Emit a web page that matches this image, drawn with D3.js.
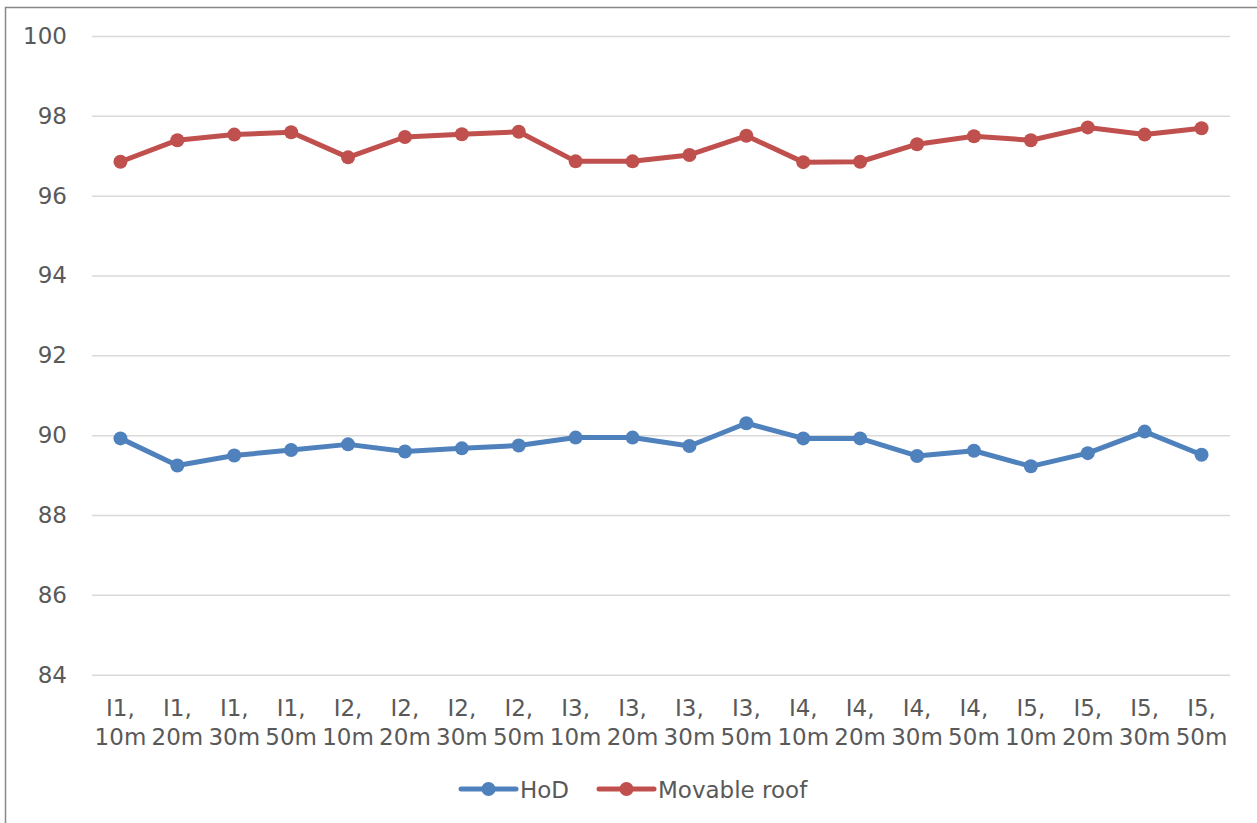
<!DOCTYPE html>
<html>
<head>
<meta charset="utf-8">
<script src="https://cdn.jsdelivr.net/npm/d3@7"></script>
<style>
  body { margin: 0; background: #fff; }
  svg { display: block; font-family: "DejaVu Sans", Verdana, sans-serif; }
</style>
</head>
<body>
<div id="chart"></div>
<script>
// chart data
const categories = [
  ['I1,', '10m'], ['I1,', '20m'], ['I1,', '30m'], ['I1,', '50m'],
  ['I2,', '10m'], ['I2,', '20m'], ['I2,', '30m'], ['I2,', '50m'],
  ['I3,', '10m'], ['I3,', '20m'], ['I3,', '30m'], ['I3,', '50m'],
  ['I4,', '10m'], ['I4,', '20m'], ['I4,', '30m'], ['I4,', '50m'],
  ['I5,', '10m'], ['I5,', '20m'], ['I5,', '30m'], ['I5,', '50m']
];
const hod = [89.92, 89.24, 89.49, 89.63, 89.77, 89.59, 89.67, 89.74, 89.94, 89.94,
             89.73, 90.30, 89.92, 89.92, 89.48, 89.61, 89.22, 89.55, 90.09, 89.51];
const movableRoof = [96.85, 97.39, 97.53, 97.59, 96.96, 97.47, 97.54, 97.60, 96.86, 96.86,
                     97.02, 97.50, 96.84, 96.85, 97.29, 97.49, 97.39, 97.71, 97.53, 97.69];
const yTicks = [84, 86, 88, 90, 92, 94, 96, 98, 100];
const seriesNames = ['HoD', 'Movable roof'];
const seriesColors = ['#4F81BD', '#C0504D'];

(function() {
  'use strict';

  const width = 1257, height = 823,
        margin = { left: 92, right: 27, top: 36, bottom: 148 },
        textColor = '#595959',
        fontSize = '23px',
        series = [hod, movableRoof];

  const svg = d3.select('#chart').append('svg')
    .attr('width', width)
    .attr('height', height);

  // outer frame of the chart area
  svg.append('rect')
    .attr('x', 5.5).attr('y', 7.5)
    .attr('width', width + 10).attr('height', height + 10)
    .attr('fill', 'none')
    .attr('stroke', '#888')
    .attr('stroke-width', 1.5);

  const x = d3.scaleBand()
    .domain(d3.range(categories.length))
    .range([margin.left, width - margin.right]);

  const y = d3.scaleLinear()
    .domain([84, 100])
    .range([height - margin.bottom - 0.3, margin.top]);

  // gridlines + y labels
  const yAxis = d3.axisLeft(y)
    .tickValues(yTicks)
    .tickSize(-(width - margin.left - margin.right))
    .tickPadding(25);

  const gy = svg.append('g')
    .attr('transform', `translate(${margin.left},0)`)
    .call(yAxis);
  gy.select('.domain').remove();
  gy.selectAll('.tick line').attr('stroke', '#d9d9d9').attr('stroke-width', 1.5);
  gy.selectAll('.tick text')
    .attr('fill', textColor)
    .style('font-size', fontSize)
    .style('font-family', '"DejaVu Sans", Verdana, sans-serif');

  // x labels (two lines each)
  const xl = svg.append('g').selectAll('text')
    .data(categories)
    .join('text')
    .attr('x', (d, i) => x(i) + x.bandwidth() / 2)
    .attr('y', 716)
    .attr('text-anchor', 'middle')
    .attr('fill', textColor)
    .style('font-size', fontSize);
  xl.append('tspan').text(d => d[0]);
  xl.append('tspan')
    .attr('x', (d, i) => x(i) + x.bandwidth() / 2)
    .attr('dy', 29)
    .text(d => d[1]);

  const line = d3.line()
    .x((d, i) => x(i) + x.bandwidth() / 2)
    .y(d => y(d));

  // series lines + markers
  series.forEach((values, s) => {
    svg.append('path')
      .datum(values)
      .attr('d', line)
      .attr('fill', 'none')
      .attr('stroke', seriesColors[s])
      .attr('stroke-width', 5)
      .attr('stroke-linejoin', 'round')
      .attr('stroke-linecap', 'round');

    svg.append('g').selectAll('circle')
      .data(values)
      .join('circle')
      .attr('cx', (d, i) => x(i) + x.bandwidth() / 2)
      .attr('cy', d => y(d))
      .attr('r', 7)
      .attr('fill', seriesColors[s]);
  });

  // legend
  const legendX = [461, 599];
  const lg = svg.append('g').selectAll('g')
    .data(seriesNames)
    .join('g')
    .attr('transform', (d, i) => `translate(${legendX[i]},789)`);
  lg.append('line')
    .attr('x1', 0).attr('x2', 55)
    .attr('stroke', (d, i) => seriesColors[i])
    .attr('stroke-width', 5)
    .attr('stroke-linecap', 'round');
  lg.append('circle')
    .attr('cx', 27.5).attr('r', 7)
    .attr('fill', (d, i) => seriesColors[i]);
  lg.append('text')
    .attr('x', 59).attr('y', 8.5)
    .attr('fill', textColor)
    .style('font-size', fontSize)
    .text(d => d);
})();
</script>
</body>
</html>
